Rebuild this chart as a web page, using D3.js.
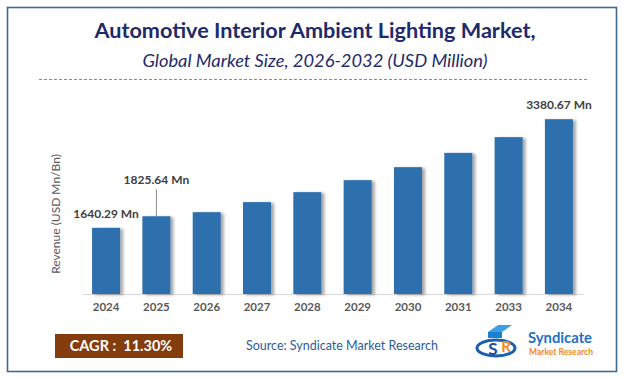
<!DOCTYPE html>
<html>
<head>
<meta charset="utf-8">
<script src="https://cdn.jsdelivr.net/npm/d3@7"></script>
<style>
  body { margin: 0; background: #fff; }
  svg { display: block; font-family: Lato, "Open Sans", sans-serif; }
</style>
</head>
<body>
<div id="chart"></div>
<script>
/* chart data */
const years = ["2024", "2025", "2026", "2027", "2028", "2029", "2030", "2031", "2033", "2034"];
const revenue = [1640.29, 1825.64, 1891, 2052, 2212, 2404, 2612, 2841, 3093, 3380.67];
const labelYears = ["2024", "2025", "2034"];
const labelTexts = ["1640.29 Mn", "1825.64 Mn", "3380.67 Mn"];
const cagrText = "CAGR :  11.30%";

/* svg size */
const width = 626;
const height = 379;

const svg = d3.select("#chart").append("svg")
    .attr("width", width)
    .attr("height", height);

/* drop shadow for bars */
const defs = svg.append("defs");
defs.append("filter")
    .attr("id", "shadow")
    .attr("x", "-20%").attr("y", "-10%")
    .attr("width", "160%").attr("height", "130%")
  .append("feDropShadow")
    .attr("dx", 3)
    .attr("dy", 1)
    .attr("stdDeviation", 1.6)
    .attr("flood-color", "#000")
    .attr("flood-opacity", 0.35);

/* outer frame */
svg.append("rect")
    .attr("x", 7.5).attr("y", 7.5)
    .attr("width", 609).attr("height", 364)
    .attr("fill", "none")
    .attr("stroke", "#41698f")
    .attr("stroke-width", 1.6);

/* titles */
svg.append("text")
    .attr("x", 315).attr("y", 38)
    .attr("text-anchor", "middle")
    .attr("font-size", 20)
    .attr("font-weight", "bold")
    .attr("fill", "#1f2a6b")
    .attr("textLength", 441)
    .attr("lengthAdjust", "spacingAndGlyphs")
    .text("Automotive Interior Ambient Lighting Market,");

svg.append("text")
    .attr("x", 315).attr("y", 67)
    .attr("text-anchor", "middle")
    .attr("font-size", 17)
    .attr("font-style", "italic")
    .attr("fill", "#1f2a6b")
    .attr("textLength", 345)
    .attr("lengthAdjust", "spacingAndGlyphs")
    .text("Global Market Size, 2026-2032 (USD Million)");

svg.append("line")
    .attr("x1", 39).attr("x2", 589)
    .attr("y1", 79.5).attr("y2", 79.5)
    .attr("stroke", "#6f8fc9")
    .attr("stroke-width", 1)
    .attr("stroke-dasharray", "3,2");

/* scales */
const x = d3.scaleBand()
    .domain(years)
    .range([82, 583])
    .paddingInner(0.443)
    .paddingOuter(0.2);

const y = d3.scaleLinear()
    .domain([580, 3400])
    .range([294, 118]);

/* x axis */
const xAxis = d3.axisBottom(x)
    .tickSize(0)
    .tickSizeOuter(0)
    .tickPadding(9);

const axisG = svg.append("g")
    .attr("transform", "translate(0,294)")
    .call(xAxis);

axisG.select(".domain")
    .attr("stroke", "#d9d9d9")
    .attr("stroke-width", 1.2);

axisG.selectAll("text")
    .attr("font-family", "Lato, sans-serif")
    .attr("font-size", 11.5)
    .attr("font-weight", "bold")
    .attr("fill", "#595959");

/* y axis title */
svg.append("text")
    .attr("transform", "translate(60,214) rotate(-90)")
    .attr("text-anchor", "middle")
    .attr("font-size", 12)
    .attr("fill", "#595959")
    .text("Revenue (USD Mn/Bn)");

/* bars */
svg.selectAll(".bar")
    .data(years)
    .enter().append("rect")
    .attr("class", "bar")
    .attr("x", function (d) { return x(d); })
    .attr("y", function (d, i) { return y(revenue[i]); })
    .attr("width", x.bandwidth())
    .attr("height", function (d, i) { return 294 - y(revenue[i]); })
    .attr("fill", "#2e6fad")
    .attr("filter", "url(#shadow)");

/* value labels, 2025 lifted with a leader line */
const lift = function (d) { return d === "2025" ? 32 : 10; };

svg.selectAll(".leader")
    .data(labelYears.filter(function (d) { return d === "2025"; }))
    .enter().append("line")
    .attr("class", "leader")
    .attr("x1", function (d) { return x(d) + x.bandwidth() / 2; })
    .attr("x2", function (d) { return x(d) + x.bandwidth() / 2; })
    .attr("y1", function (d) { return y(revenue[years.indexOf(d)]) - lift(d) + 5; })
    .attr("y2", function (d) { return y(revenue[years.indexOf(d)]); })
    .attr("stroke", "#8c8c8c")
    .attr("stroke-width", 1);

svg.selectAll(".value")
    .data(labelYears)
    .enter().append("text")
    .attr("class", "value")
    .attr("x", function (d) { return x(d) + x.bandwidth() / 2; })
    .attr("y", function (d) { return y(revenue[years.indexOf(d)]) - lift(d); })
    .attr("text-anchor", "middle")
    .attr("font-size", 12)
    .attr("font-weight", "bold")
    .attr("fill", "#404040")
    .text(function (d, i) { return labelTexts[i]; });

/* footer: CAGR box */
svg.append("rect")
    .attr("x", 55).attr("y", 334)
    .attr("width", 128).attr("height", 24)
    .attr("fill", "#843c0c");

svg.append("text")
    .attr("x", 121).attr("y", 351)
    .attr("text-anchor", "middle")
    .attr("font-size", 14.5)
    .attr("font-weight", "bold")
    .attr("fill", "#fff")
    .attr("xml:space", "preserve")
    .text(cagrText);

svg.append("text")
    .attr("x", 342).attr("y", 350)
    .attr("text-anchor", "middle")
    .attr("font-size", 12.5)
    .attr("fill", "#2e5c9a")
    .text("Source: Syndicate Market Research");

/* logo */
const logo = svg.append("g");
logo.append("ellipse")
    .attr("cx", 496).attr("cy", 348)
    .attr("rx", 19).attr("ry", 8)
    .attr("fill", "none")
    .attr("stroke", "#1b5fb0")
    .attr("stroke-width", 3);
logo.append("path")
    .attr("d", "M488,332 L498,325 L512,325 L502,332 Z")
    .attr("fill", "#3aa0e0");
logo.append("rect")
    .attr("x", 488).attr("y", 332)
    .attr("width", 14).attr("height", 6)
    .attr("fill", "#1b7fd0");
logo.append("text")
    .attr("x", 493).attr("y", 355)
    .attr("text-anchor", "middle")
    .attr("font-size", 17)
    .attr("font-weight", "bold")
    .attr("fill", "#1b4f9a")
    .text("S");
logo.append("text")
    .attr("x", 506).attr("y", 352)
    .attr("text-anchor", "middle")
    .attr("font-size", 15)
    .attr("font-weight", "bold")
    .attr("fill", "#f08a24")
    .text("R");
logo.append("text")
    .attr("x", 528).attr("y", 343)
    .attr("font-size", 16)
    .attr("font-weight", "bold")
    .attr("fill", "#1f6fc5")
    .attr("textLength", 64)
    .attr("lengthAdjust", "spacingAndGlyphs")
    .text("Syndicate");
logo.append("text")
    .attr("x", 529).attr("y", 355)
    .attr("font-size", 10)
    .attr("font-weight", "bold")
    .attr("fill", "#f08a24")
    .attr("textLength", 64)
    .attr("lengthAdjust", "spacingAndGlyphs")
    .text("Market Research");
</script>
</body>
</html>
